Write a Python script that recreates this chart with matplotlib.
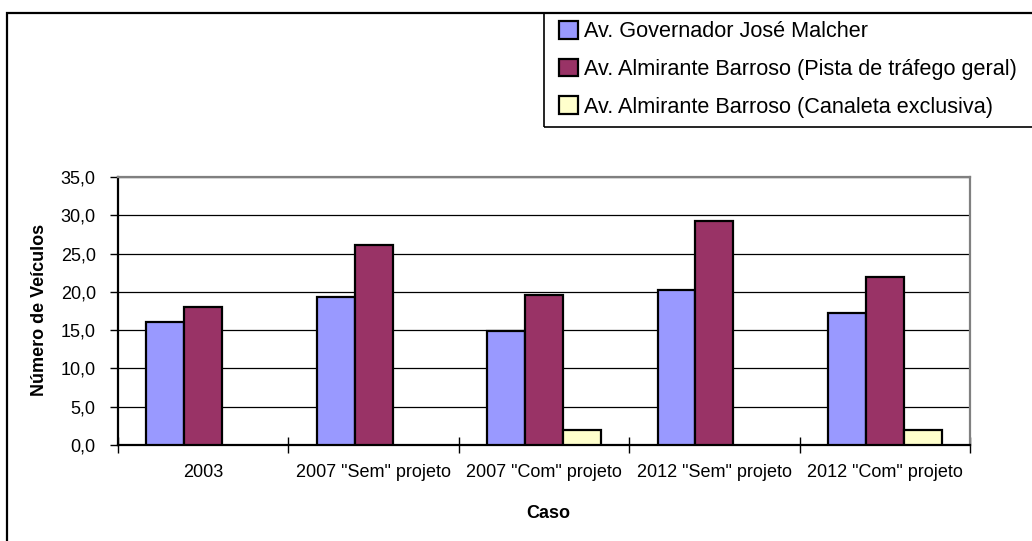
import matplotlib
matplotlib.use('Agg')
import matplotlib.pyplot as plt
from matplotlib.patches import Rectangle
import numpy as np

casos = ['2003', '2007 "Sem" projeto', '2007 "Com" projeto',
         '2012 "Sem" projeto', '2012 "Com" projeto']
series = ['Av. Governador José Malcher',
          'Av. Almirante Barroso (Pista de tráfego geral)',
          'Av. Almirante Barroso (Canaleta exclusiva)']
malcher = [16.0, 19.3, 14.9, 20.3, 17.3]
barroso_geral = [18.0, 26.1, 19.6, 29.2, 22.0]
barroso_canaleta = [0.0, 0.0, 2.0, 0.0, 2.0]
yticks = [0, 5, 10, 15, 20, 25, 30, 35]

cores = ['#9999FF', '#993366', '#FFFFCC']
fonte = ['Liberation Sans Narrow', 'Liberation Sans', 'DejaVu Sans']
plt.rcParams['font.family'] = fonte

W, H = 1032, 541
fig = plt.figure(figsize=(W / 100, H / 100), dpi=100)
ax = fig.add_axes([118 / W, 1 - 445 / H, (970 - 118) / W, (445 - 177) / H])

x = np.arange(len(casos))
w = 0.222
valores = [malcher, barroso_geral, barroso_canaleta]
for i, (vals, cor, nome) in enumerate(zip(valores, cores, series)):
    xs = [xx for xx, v in zip(x, vals) if v > 0]
    vs = [v for v in vals if v > 0]
    ax.bar(np.array(xs) + (i - 1) * w, vs, w, color=cor, edgecolor='black',
           linewidth=1.6, label=nome, zorder=3)

ax.set_xlim(-0.5, len(casos) - 0.5)
ax.set_ylim(0, 35)
ax.set_yticks(yticks)
ax.set_yticklabels([('%.1f' % t).replace('.', ',') for t in yticks], fontsize=13)
ax.yaxis.grid(True, color='black', linewidth=0.9, zorder=0)
ax.tick_params(axis='y', length=6, width=1, direction='out', pad=10)

ax.set_xticks(x)
ax.set_xticklabels(casos, fontsize=13)
ax.tick_params(axis='x', length=0, pad=14)
ax.set_xticks(np.arange(-0.5, len(casos)), minor=True)
ax.tick_params(axis='x', which='minor', length=12, width=1, direction='inout')

for s in ['left', 'bottom']:
    ax.spines[s].set_color('black')
    ax.spines[s].set_linewidth(1.6)
for s in ['top', 'right']:
    ax.spines[s].set_color('#808080')
    ax.spines[s].set_linewidth(1.6)

fig.text(40 / W, 1 - 310 / H, 'Número de Veículos', rotation=90, ha='center',
         va='center', fontsize=13, fontweight='bold')
fig.text(548 / W, 1 - 513 / H, 'Caso', ha='center', va='center',
         fontsize=13, fontweight='bold')

# outer chart border
fig.patches.append(Rectangle((7 / W, -0.1), 1.2, 1 - 13 / H + 0.1,
                             transform=fig.transFigure, fill=False,
                             edgecolor='black', linewidth=1.6))
# legend frame
fig.patches.append(Rectangle((544 / W, 1 - 127 / H), 1.0, (127 - 13) / H,
                             transform=fig.transFigure, fill=False,
                             edgecolor='black', linewidth=1.2))
leg = fig.legend(loc='upper left', bbox_to_anchor=(559 / W, 1 - 21 / H),
                 frameon=False, fontsize=15.6, handlelength=0.87,
                 handleheight=0.87, handletextpad=0.3, labelspacing=0.76,
                 borderpad=0, borderaxespad=0)

fig.savefig('out.png', dpi=100)
